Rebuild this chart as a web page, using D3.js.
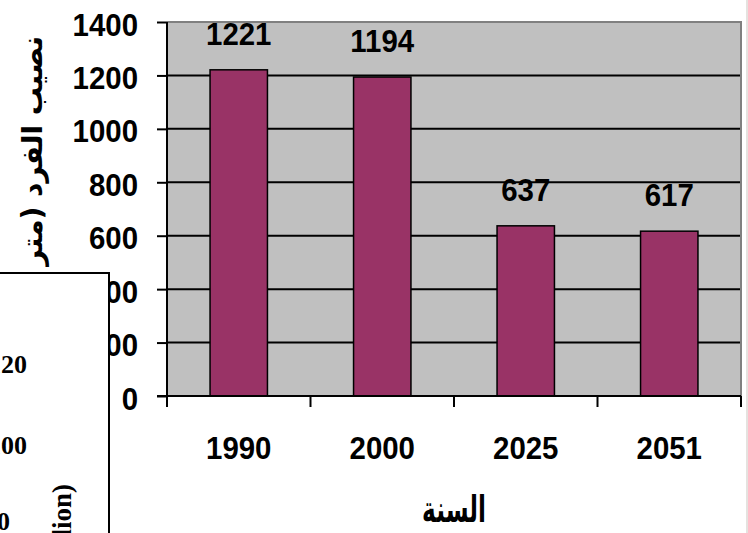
<!DOCTYPE html>
<html>
<head>
<meta charset="utf-8">
<script src="https://cdn.jsdelivr.net/npm/d3@7"></script>
<style>
  body { margin: 0; background: #fff; overflow: hidden; }
  svg { display: block; }
</style>
</head>
<body>
<svg id="chart" width="748" height="533"></svg>
<script>
// Per-capita water share by year
const years = ["1990", "2000", "2025", "2051"];
const perCapita = [1221, 1194, 637, 617];
const yTicks = [0, 200, 400, 600, 800, 1000, 1200, 1400];
const yTitle = "نصيب الفرد (متر مكعب/سنة)";
const xTitle = "السنة";

// Pieces of the neighbouring chart panel that overlaps this one
const insetTickLabels = ["120", "100", "80"];
const insetTitle = "Population (Million)";

const svg = d3.select("#chart");
const W = 748, H = 533;
const plot = { left: 167, right: 741, top: 22, bottom: 396 };

const x = d3.scaleBand()
  .domain(years)
  .range([plot.left, plot.right])
  .paddingInner(0.6)
  .paddingOuter(0.3);

const y = d3.scaleLinear()
  .domain([0, 1400])
  .range([plot.bottom, plot.top]);

const numFont = "'Liberation Sans', Arial, sans-serif";
const arFont = "'DejaVu Sans', sans-serif";
const numSize = 32, numSqueeze = 0.92;

// bold numerals, slightly narrowed
function numText(sel) {
  return sel.attr("font-family", numFont).attr("font-weight", "bold")
    .attr("font-size", numSize).attr("fill", "#000");
}

svg.append("rect").attr("width", W).attr("height", H).attr("fill", "#fff");

// plot area
svg.append("rect")
  .attr("x", plot.left).attr("y", plot.top)
  .attr("width", plot.right - plot.left)
  .attr("height", plot.bottom - plot.top)
  .attr("fill", "#c0c0c0");

// gridlines
svg.append("g").selectAll("line")
  .data(yTicks.filter(v => v > 0 && v < 1400))
  .join("line")
  .attr("x1", plot.left).attr("x2", plot.right)
  .attr("y1", d => y(d)).attr("y2", d => y(d))
  .attr("stroke", "#000").attr("stroke-width", 2);

// plot border (top / right)
svg.append("path")
  .attr("d", `M${plot.left},${plot.top}H${plot.right}V${plot.bottom}`)
  .attr("fill", "none").attr("stroke", "#808080").attr("stroke-width", 2);

const rows = years.map((yr, i) => ({ yr, v: perCapita[i] }));

// bars
svg.append("g").selectAll("rect")
  .data(rows)
  .join("rect")
  .attr("x", d => x(d.yr))
  .attr("y", d => y(d.v))
  .attr("width", x.bandwidth())
  .attr("height", d => y(0) - y(d.v))
  .attr("fill", "#993366")
  .attr("stroke", "#000").attr("stroke-width", 1.5);

// value labels
svg.append("g").selectAll("text")
  .data(rows)
  .join("text")
  .attr("transform", d =>
    `translate(${x(d.yr) + x.bandwidth() / 2},${y(d.v) - 25}) scale(${numSqueeze},1)`)
  .attr("text-anchor", "middle")
  .call(numText)
  .text(d => d.v);

// y axis
const yAxis = svg.append("g")
  .attr("transform", `translate(${plot.left},0)`)
  .call(d3.axisLeft(y).tickValues(yTicks).tickFormat(d3.format("d"))
    .tickSize(10).tickSizeOuter(0).tickPadding(19));
yAxis.select(".domain").remove();
yAxis.selectAll(".tick line").attr("stroke", "#000").attr("stroke-width", 2);
yAxis.selectAll(".tick text")
  .attr("x", 0).attr("dy", 0)
  .attr("transform", `translate(-29,13) scale(${numSqueeze},1)`)
  .call(numText);
svg.append("line")
  .attr("x1", plot.left).attr("x2", plot.left)
  .attr("y1", plot.top).attr("y2", plot.bottom + 11)
  .attr("stroke", "#000").attr("stroke-width", 2);

// x axis: ticks at category boundaries, labels under each bar
const bounds = years.map(yr => x(yr) - x.step() * x.paddingInner() / 2)
  .concat([plot.right]);
svg.append("g").selectAll("line")
  .data(bounds)
  .join("line")
  .attr("x1", d => d).attr("x2", d => d)
  .attr("y1", plot.bottom).attr("y2", plot.bottom + 11)
  .attr("stroke", "#000").attr("stroke-width", 2);
svg.append("line")
  .attr("x1", plot.left - 10).attr("x2", plot.right)
  .attr("y1", plot.bottom).attr("y2", plot.bottom)
  .attr("stroke", "#000").attr("stroke-width", 2);

const xAxis = svg.append("g")
  .attr("transform", `translate(0,${plot.bottom})`)
  .call(d3.axisBottom(x).tickSize(0).tickPadding(0));
xAxis.select(".domain").remove();
xAxis.selectAll(".tick text")
  .attr("y", 0).attr("dy", 0)
  .attr("transform", `translate(0,63) scale(${numSqueeze},1)`)
  .call(numText);

// axis titles
svg.append("text")
  .attr("transform", `translate(${(plot.left + plot.right) / 2},522) scale(0.8,1.25)`)
  .attr("text-anchor", "middle")
  .attr("font-family", arFont).attr("font-weight", "bold")
  .attr("font-size", 29).attr("fill", "#000")
  .text(xTitle);

svg.append("text")
  .attr("transform", "translate(42,36) rotate(-90)")
  .attr("direction", "rtl")
  .attr("text-anchor", "start")
  .attr("font-family", arFont).attr("font-weight", "bold")
  .attr("font-size", 28).attr("fill", "#000")
  .text(yTitle);

// overlapping panel of the neighbouring chart
const inset = svg.append("g");
inset.append("rect")
  .attr("x", -4).attr("y", 273)
  .attr("width", 113).attr("height", 275)
  .attr("fill", "#fff").attr("stroke", "#000").attr("stroke-width", 2);
const insetX = [27, 27, 10];
const insetY = [373, 454, 530];
inset.selectAll("text.tick")
  .data(insetTickLabels)
  .join("text")
  .attr("class", "tick")
  .attr("x", (d, i) => insetX[i])
  .attr("y", (d, i) => insetY[i])
  .attr("text-anchor", "end")
  .attr("font-family", "'Liberation Serif', 'Times New Roman', serif")
  .attr("font-weight", "bold").attr("font-size", 26).attr("fill", "#000")
  .text(d => d);
inset.append("text")
  .attr("transform", "translate(71,484) rotate(-90)")
  .attr("text-anchor", "end")
  .attr("font-family", "'Liberation Serif', 'Times New Roman', serif")
  .attr("font-weight", "bold").attr("font-size", 27).attr("fill", "#000")
  .text(insetTitle);

// outer frame edge on the right
svg.append("line")
  .attr("x1", 747).attr("x2", 747).attr("y1", 0).attr("y2", H)
  .attr("stroke", "#dcd8d4").attr("stroke-width", 1.5);
</script>
</body>
</html>
